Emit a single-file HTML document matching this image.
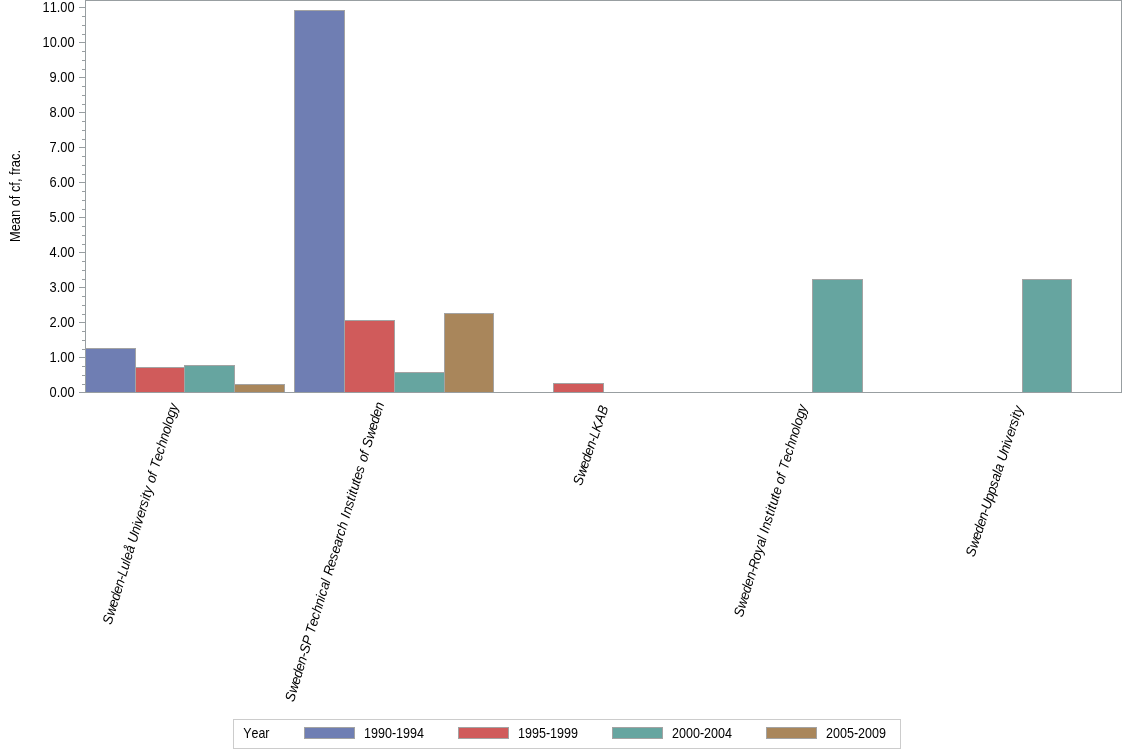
<!DOCTYPE html>
<html><head><meta charset="utf-8"><title>Mean of cf, frac.</title>
<style>
html,body{margin:0;padding:0;background:#fff;}
body{width:1134px;height:756px;overflow:hidden;font-family:"Liberation Sans",Arial,sans-serif;}
svg{display:block;}
text{font-kerning:none;font-family:"Liberation Sans",Arial,sans-serif;font-size:13.87px;fill:#000;}
.xl{font-size:13.87px;font-style:italic;font-kerning:none;}
</style></head><body>
<svg width="1134" height="756" viewBox="0 0 1134 756">
<rect x="0" y="0" width="1134" height="756" fill="#fff"/>

<g shape-rendering="crispEdges" stroke="#A3A3A3" stroke-width="1">
<rect x="85.5" y="348.5" width="50" height="44" fill="#6F7EB3"/>
<rect x="135.5" y="367.5" width="49" height="25" fill="#D05B5B"/>
<rect x="184.5" y="365.5" width="50" height="27" fill="#66A5A0"/>
<rect x="234.5" y="384.5" width="50" height="8" fill="#A9865B"/>
<rect x="294.5" y="10.5" width="50" height="382" fill="#6F7EB3"/>
<rect x="344.5" y="320.5" width="50" height="72" fill="#D05B5B"/>
<rect x="394.5" y="372.5" width="50" height="20" fill="#66A5A0"/>
<rect x="444.5" y="313.5" width="49" height="79" fill="#A9865B"/>
<rect x="553.5" y="383.5" width="50" height="9" fill="#D05B5B"/>
<rect x="812.5" y="279.5" width="50" height="113" fill="#66A5A0"/>
<rect x="1022.5" y="279.5" width="49" height="113" fill="#66A5A0"/>
</g>
<g shape-rendering="crispEdges" stroke="#989EA1" stroke-width="1" fill="none">
<rect x="85.5" y="0.5" width="1036" height="392"/>
<line x1="79" y1="392.5" x2="85" y2="392.5"/>
<line x1="82" y1="384.5" x2="85" y2="384.5"/>
<line x1="82" y1="375.5" x2="85" y2="375.5"/>
<line x1="82" y1="366.5" x2="85" y2="366.5"/>
<line x1="79" y1="357.5" x2="85" y2="357.5"/>
<line x1="82" y1="349.5" x2="85" y2="349.5"/>
<line x1="82" y1="340.5" x2="85" y2="340.5"/>
<line x1="82" y1="331.5" x2="85" y2="331.5"/>
<line x1="79" y1="322.5" x2="85" y2="322.5"/>
<line x1="82" y1="314.5" x2="85" y2="314.5"/>
<line x1="82" y1="305.5" x2="85" y2="305.5"/>
<line x1="82" y1="296.5" x2="85" y2="296.5"/>
<line x1="79" y1="287.5" x2="85" y2="287.5"/>
<line x1="82" y1="279.5" x2="85" y2="279.5"/>
<line x1="82" y1="270.5" x2="85" y2="270.5"/>
<line x1="82" y1="261.5" x2="85" y2="261.5"/>
<line x1="79" y1="252.5" x2="85" y2="252.5"/>
<line x1="82" y1="244.5" x2="85" y2="244.5"/>
<line x1="82" y1="235.5" x2="85" y2="235.5"/>
<line x1="82" y1="226.5" x2="85" y2="226.5"/>
<line x1="79" y1="217.5" x2="85" y2="217.5"/>
<line x1="82" y1="209.5" x2="85" y2="209.5"/>
<line x1="82" y1="200.5" x2="85" y2="200.5"/>
<line x1="82" y1="191.5" x2="85" y2="191.5"/>
<line x1="79" y1="182.5" x2="85" y2="182.5"/>
<line x1="82" y1="174.5" x2="85" y2="174.5"/>
<line x1="82" y1="165.5" x2="85" y2="165.5"/>
<line x1="82" y1="156.5" x2="85" y2="156.5"/>
<line x1="79" y1="147.5" x2="85" y2="147.5"/>
<line x1="82" y1="139.5" x2="85" y2="139.5"/>
<line x1="82" y1="130.5" x2="85" y2="130.5"/>
<line x1="82" y1="121.5" x2="85" y2="121.5"/>
<line x1="79" y1="112.5" x2="85" y2="112.5"/>
<line x1="82" y1="104.5" x2="85" y2="104.5"/>
<line x1="82" y1="95.5" x2="85" y2="95.5"/>
<line x1="82" y1="86.5" x2="85" y2="86.5"/>
<line x1="79" y1="77.5" x2="85" y2="77.5"/>
<line x1="82" y1="69.5" x2="85" y2="69.5"/>
<line x1="82" y1="60.5" x2="85" y2="60.5"/>
<line x1="82" y1="51.5" x2="85" y2="51.5"/>
<line x1="79" y1="42.5" x2="85" y2="42.5"/>
<line x1="82" y1="34.5" x2="85" y2="34.5"/>
<line x1="82" y1="25.5" x2="85" y2="25.5"/>
<line x1="82" y1="16.5" x2="85" y2="16.5"/>
<line x1="79" y1="7.5" x2="85" y2="7.5"/>
</g>
<text x="74.6" y="396.9" text-anchor="end" textLength="25" lengthAdjust="spacingAndGlyphs">0.00</text>
<text x="74.6" y="361.9" text-anchor="end" textLength="25" lengthAdjust="spacingAndGlyphs">1.00</text>
<text x="74.6" y="326.9" text-anchor="end" textLength="25" lengthAdjust="spacingAndGlyphs">2.00</text>
<text x="74.6" y="291.9" text-anchor="end" textLength="25" lengthAdjust="spacingAndGlyphs">3.00</text>
<text x="74.6" y="256.9" text-anchor="end" textLength="25" lengthAdjust="spacingAndGlyphs">4.00</text>
<text x="74.6" y="221.9" text-anchor="end" textLength="25" lengthAdjust="spacingAndGlyphs">5.00</text>
<text x="74.6" y="186.9" text-anchor="end" textLength="25" lengthAdjust="spacingAndGlyphs">6.00</text>
<text x="74.6" y="151.9" text-anchor="end" textLength="25" lengthAdjust="spacingAndGlyphs">7.00</text>
<text x="74.6" y="116.9" text-anchor="end" textLength="25" lengthAdjust="spacingAndGlyphs">8.00</text>
<text x="74.6" y="81.9" text-anchor="end" textLength="25" lengthAdjust="spacingAndGlyphs">9.00</text>
<text x="74.6" y="46.9" text-anchor="end" textLength="32" lengthAdjust="spacingAndGlyphs">10.00</text>
<text x="74.6" y="11.9" text-anchor="end" textLength="32" lengthAdjust="spacingAndGlyphs">11.00</text>
<text transform="translate(20,196) rotate(-90)" text-anchor="middle" textLength="92" lengthAdjust="spacingAndGlyphs">Mean of cf, frac.</text>
<text class="xl"  transform="translate(111.30,625.25) rotate(-73.05) scale(0.960,1)" x="0.00 9.43 18.87 26.20 33.54 40.88 48.21 52.41 59.74 67.08 70.22 77.56 84.90 89.09 98.52 105.86 109.01 116.34 123.68 127.87 135.21 138.35 142.55 149.88 154.07 161.41 165.60 169.80 178.18 185.52 192.86 200.19 207.53 214.87 218.01 225.35 232.68">Sweden-Luleå University of Technology</text>
<text class="xl"  transform="translate(293.64,702.46) rotate(-73.12) scale(0.960,1)" x="0.00 9.43 18.86 26.20 33.54 40.87 48.21 52.40 61.83 69.70 73.89 82.28 89.61 96.95 104.28 111.62 114.76 122.10 129.44 133.10 137.29 146.72 154.06 161.40 168.73 176.07 180.26 187.60 195.56 199.75 203.94 211.28 218.61 222.80 225.95 230.14 237.48 241.67 249.00 256.76 260.95 268.28 272.48 276.67 286.10 295.53 302.87 310.20 317.54">Sweden-SP Technical Research Institutes of Sweden</text>
<text class="xl"  transform="translate(581.47,486.16) rotate(-70.97) scale(0.960,1)" x="0.00 9.31 18.61 25.85 33.09 40.33 47.56 51.70 58.94 68.24 77.55">Sweden-LKAB</text>
<text class="xl"  transform="translate(742.39,617.85) rotate(-72.95) scale(0.960,1)" x="0.00 9.45 18.90 26.24 33.59 40.94 48.29 52.49 61.94 69.28 76.63 83.98 87.13 91.33 95.53 102.88 110.23 114.42 117.57 121.77 129.12 133.32 140.67 144.87 152.22 156.41 160.61 169.01 176.36 183.71 191.06 198.41 205.75 208.90 216.25 223.60">Sweden-Royal Institute of Technology</text>
<text class="xl"  transform="translate(974.25,557.62) rotate(-71.90) scale(0.960,1)" x="0.00 9.33 18.65 25.91 33.16 40.42 47.67 51.82 61.15 68.40 75.65 82.91 90.16 93.27 100.53 104.67 114.00 121.25 124.36 131.62 138.87 143.02 150.27 153.38 157.53">Sweden-Uppsala University</text>
<rect x="233.5" y="719.5" width="667" height="29" fill="#fff" stroke="#CCCCCC" stroke-width="1" shape-rendering="crispEdges"/>
<text x="243.2" y="737.8" textLength="26.3" lengthAdjust="spacingAndGlyphs">Year</text>
<rect x="304.5" y="727.5" width="50" height="11" fill="#6F7EB3" stroke="#A3A3A3" stroke-width="1" shape-rendering="crispEdges"/>
<text x="364.0" y="737.8" textLength="60" lengthAdjust="spacingAndGlyphs">1990-1994</text>
<rect x="458.5" y="727.5" width="50" height="11" fill="#D05B5B" stroke="#A3A3A3" stroke-width="1" shape-rendering="crispEdges"/>
<text x="518.0" y="737.8" textLength="60" lengthAdjust="spacingAndGlyphs">1995-1999</text>
<rect x="612.5" y="727.5" width="50" height="11" fill="#66A5A0" stroke="#A3A3A3" stroke-width="1" shape-rendering="crispEdges"/>
<text x="672.0" y="737.8" textLength="60" lengthAdjust="spacingAndGlyphs">2000-2004</text>
<rect x="766.5" y="727.5" width="50" height="11" fill="#A9865B" stroke="#A3A3A3" stroke-width="1" shape-rendering="crispEdges"/>
<text x="826.0" y="737.8" textLength="60" lengthAdjust="spacingAndGlyphs">2005-2009</text>
</svg></body></html>
